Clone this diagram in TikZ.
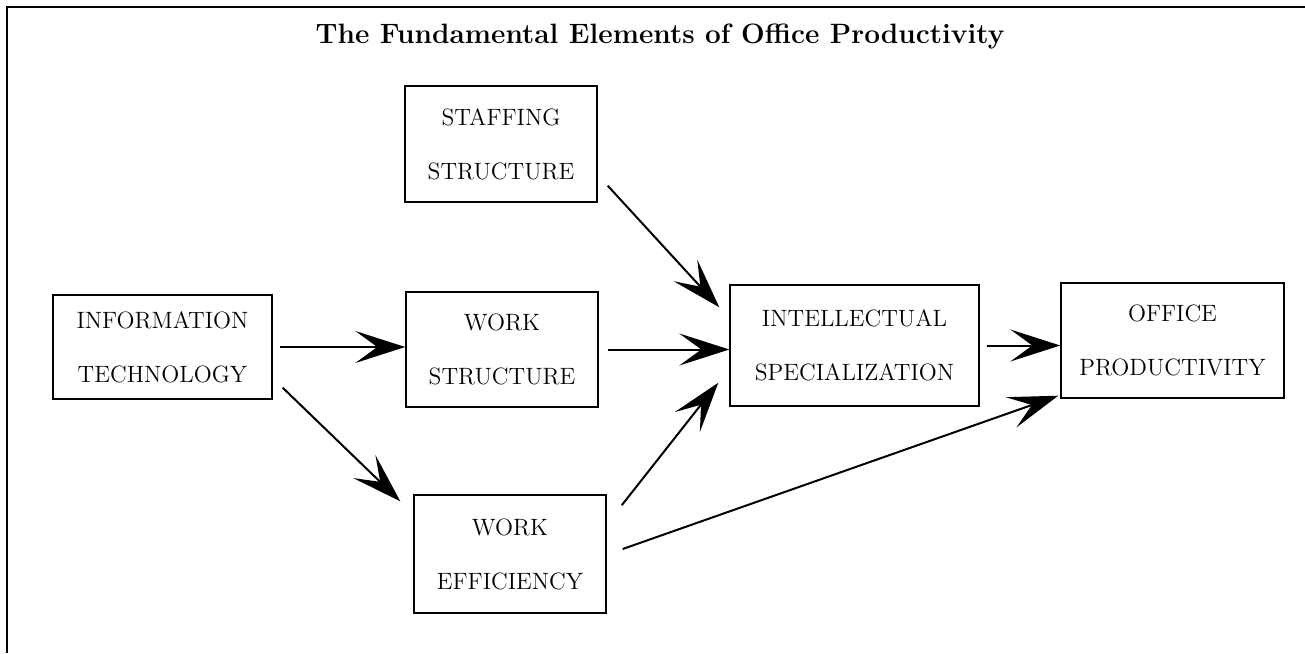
\documentclass[tikz,border=0pt]{standalone}
\usetikzlibrary{arrows.meta}

\begin{document}
\begin{tikzpicture}[x=0.5pt,y=-0.5pt,
    box/.style={draw,line width=0.7pt,inner sep=0pt,align=center,font=\fontsize{11.8}{27}\selectfont},
    arr/.style={line width=1pt,-{Stealth[length=25pt,width=16pt,inset=11pt]}}]
    \useasboundingbox (0,0) rectangle (1305,653);
    \draw[line width=0.6pt] (7,653) -- (7,7) -- (1305,7);
    \node[anchor=base,font=\fontsize{14}{17}\selectfont\bfseries] (title) at (660,43) {The Fundamental Elements of Office Productivity};
    \foreach \name/\x/\y/\w/\h/\desc in {it/162.5/347/109.5/52/{INFORMATION\\TECHNOLOGY},
            ss/501/144/96/58/{STAFFING\\STRUCTURE},
            ws/502/349.5/96/57.5/{WORK\\STRUCTURE},
            we/510/554/96/59/{WORK\\EFFICIENCY},
            is/854.5/345.5/124.5/60.5/{INTELLECTUAL\\SPECIALIZATION},
            op/1172.5/340.5/111.5/57.5/{OFFICE\\PRODUCTIVITY}} {
        \node[box,minimum width=\w pt,minimum height=\h pt] (\name) at (\x,\y) {\desc};
    }
    \draw[arr] ([xshift=3.5pt]it.east) -- (it.east -| ws.west);
    \draw[arr] ([shift={(10,-12)}]it.south east) -- ([shift={(-13,7)}]we.north west);
    \draw[arr] ([shift={(10,-17)}]ss.south east) -- ([shift={(-10,23)}]is.north west);
    \draw[arr] ([xshift=4.5pt]ws.east) -- (ws.east -| is.west);
    \draw[arr] ([shift={(15,11)}]we.north east) -- ([shift={(-11,-24)}]is.south west);
    \draw[arr] ([shift={(16,-5)}]we.east) -- ([shift={(-2,-3)}]op.south west);
    \draw[arr] ([xshift=3.5pt]is.east) -- (is.east -| op.west);
\end{tikzpicture}
\end{document}
